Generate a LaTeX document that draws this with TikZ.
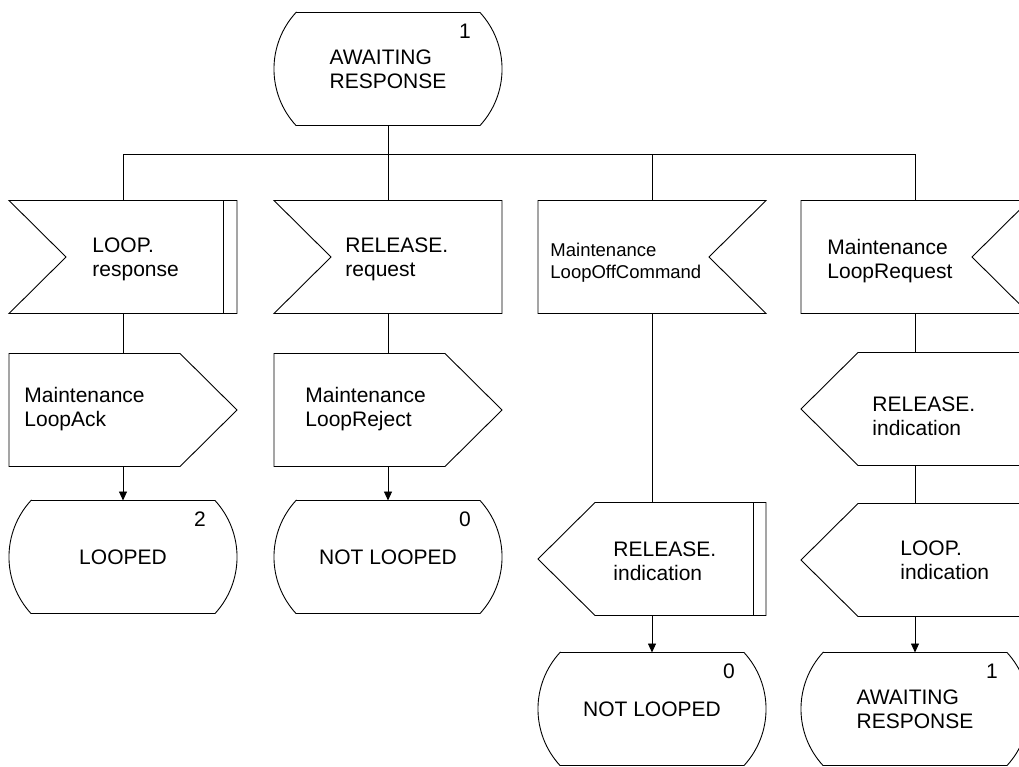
\documentclass[tikz,border=0pt]{standalone}
\usepackage{fontspec}
\setmainfont{Liberation Sans}
\usetikzlibrary{arrows.meta, calc}

\begin{document}
\begin{tikzpicture}[x=1pt, y=1pt, line width=0.9pt,
        font=\fontsize{21}{24}\selectfont,
        box/.style={minimum width=228pt, minimum height=113pt, inner sep=0pt, outer sep=0pt},
        statebox/.style={box, align=left},
        txt/.style={anchor=west, align=left, inner sep=0pt},
        num/.style={inner sep=0pt},
        flow/.style={-{Triangle[length=9pt, width=8pt]}}]
    \useasboundingbox (0,0) rectangle (1019,-767);
    \clip (0,0) rectangle (1019,-767);
    \fill[white] (0,0) rectangle (1019,-767);

    % states
    \foreach \n/\x/\y/\txt/\nr in {
        s0/388/-69/{AWAITING\\RESPONSE}/1,
        s1/123/-557/{LOOPED}/2,
        s2/388/-557/{NOT LOOPED}/0,
        s3/652/-709/{NOT LOOPED}/0,
        s4/915/-709/{AWAITING\\RESPONSE}/1}
    {
        \node[statebox] (\n) at (\x,\y) {\txt};
        \node[num] (\n-nr) at ($(\n.north east)+(-37,-19)$) {\nr};
        \draw ($(\n.north west)+(22,0)$) -- ($(\n.north east)+(-22,0)$)
            arc[start angle=42.6, end angle=-42.6, radius=83.5pt]
            -- ($(\n.south west)+(22,0)$)
            arc[start angle=222.6, end angle=137.4, radius=83.5pt] -- cycle;
    }

    % inputs
    \node[box] (in1) at (123,-257) {};
    \node[box] (in2) at (388,-257) {};
    \node[box] (in3) at (652,-257) {};
    \node[box] (in4) at (915,-257) {};
    \foreach \n in {in1,in2}
        \draw (\n.north west) -- (\n.north east) -- (\n.south east) -- (\n.south west)
            -- ($(\n.west)+(57,0)$) -- cycle;
    \foreach \n in {in3,in4}
        \draw (\n.north east) -- (\n.north west) -- (\n.south west) -- (\n.south east)
            -- ($(\n.east)+(-57,0)$) -- cycle;
    \draw ($(in1.north east)+(-14,0)$) -- ($(in1.south east)+(-14,0)$);

    % outputs
    \node[box] (out1) at (123,-410) {};
    \node[box] (out2) at (388,-410) {};
    \node[box] (out3) at (652,-559) {};
    \node[box] (out4) at (915,-409) {};
    \node[box] (out5) at (915,-560) {};
    \foreach \n in {out1,out2}
        \draw (\n.north west) -- ($(\n.north east)+(-57,0)$) -- (\n.east)
            -- ($(\n.south east)+(-57,0)$) -- (\n.south west) -- cycle;
    \foreach \n in {out3,out4,out5}
        \draw (\n.north east) -- ($(\n.north west)+(57,0)$) -- (\n.west)
            -- ($(\n.south west)+(57,0)$) -- (\n.south east) -- cycle;
    \draw ($(out3.north east)+(-13,0)$) -- ($(out3.south east)+(-13,0)$);

    % signal names
    \node[txt] (in1-t) at (92,-259) {LOOP.\\response};
    \node[txt] (in2-t) at (345,-259) {RELEASE.\\request};
    \node[txt, font=\fontsize{18.5}{22}\selectfont] (in3-t) at (550,-263) {Maintenance\\LoopOffCommand};
    \node[txt] (in4-t) at (827,-261) {Maintenance\\LoopRequest};
    \node[txt] (out1-t) at (24,-409) {Maintenance\\LoopAck};
    \node[txt] (out2-t) at (305,-409) {Maintenance\\LoopReject};
    \node[txt] (out3-t) at (613,-561) {RELEASE.\\indication};
    \node[txt] (out4-t) at (872,-416) {RELEASE.\\indication};
    \node[txt] (out5-t) at (900,-560) {LOOP.\\indication};

    % flow lines
    \coordinate (bus) at ($(s0.south)+(0,-29)$);
    \draw (s0.south) -- (bus);
    \foreach \n in {in1,in2,in3,in4}
        \draw (bus) -| (\n.north);
    \draw (in1) -- (out1);
    \draw (in2) -- (out2);
    \draw (in3) -- (out3);
    \draw (in4) -- (out4);
    \draw (out4) -- (out5);
    \draw[flow] (out1) -- (s1);
    \draw[flow] (out2) -- (s2);
    \draw[flow] (out3) -- (s3);
    \draw[flow] (out5) -- (s4);
\end{tikzpicture}
\end{document}
